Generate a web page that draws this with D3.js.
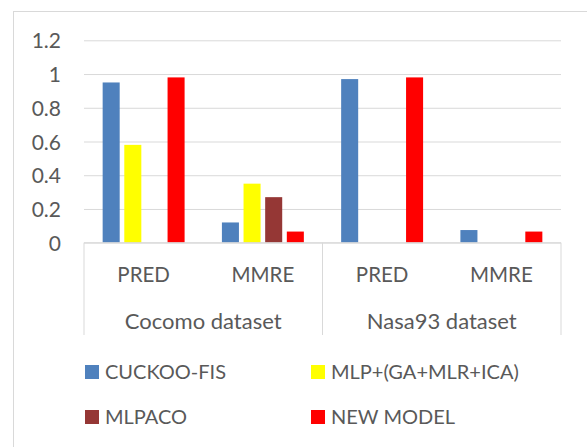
<!DOCTYPE html>
<html>
<head>
<meta charset="utf-8">
<script src="https://d3js.org/d3.v7.min.js"></script>
<style>
  body { margin: 0; background: #fff; }
  svg text { font-family: Lato, 'Open Sans', sans-serif; fill: #595959; }
  .grid line { stroke: #d9d9d9; stroke-width: 1px; }
  .grid path { display: none; }
</style>
</head>
<body>
<script>
// data
var groups = ["Cocomo dataset", "Nasa93 dataset"];
var metrics = ["PRED", "MMRE"];
var series = ["CUCKOO-FIS", "MLP+(GA+MLR+ICA)", "MLPACO", "NEW MODEL"];
var cuckooFis = [0.95, 0.12, 0.97, 0.075];
var mlpGa = [0.58, 0.35, null, null];
var mlpaco = [null, 0.27, null, null];
var newModel = [0.98, 0.066, 0.98, 0.066];
var yTicks = [0, 0.2, 0.4, 0.6, 0.8, 1, 1.2];
var colors = ["#4f81bd", "#ffff00", "#953735", "#ff0000"];

var values = [cuckooFis, mlpGa, mlpaco, newModel];

var W = 587, H = 447;
var plot = {left: 84, right: 561, top: 40.3, bottom: 242.7};

var svg = d3.select("body").append("svg")
  .attr("width", W)
  .attr("height", H);

// chart frame
svg.append("rect")
  .attr("x", 13.5).attr("y", 11.5)
  .attr("width", 640).attr("height", 520)
  .attr("fill", "none")
  .attr("stroke", "#d9d9d9");

// categories: one per dataset / metric pair
var cats = [];
groups.forEach(function(g) {
  metrics.forEach(function(m) { cats.push({group: g, metric: m, key: g + "|" + m}); });
});

var x0 = d3.scaleBand()
  .domain(cats.map(function(c) { return c.key; }))
  .range([plot.left, plot.right])
  .padding(0);

var x1 = d3.scaleBand()
  .domain(series)
  .range([0, x0.bandwidth()])
  .paddingInner(0.2126)
  .paddingOuter(0.862);

var y = d3.scaleLinear()
  .domain([0, 1.2])
  .range([plot.bottom, plot.top]);

// y axis with gridlines
var yAxis = svg.append("g")
  .attr("class", "grid")
  .attr("transform", "translate(" + plot.left + ",0)")
  .call(d3.axisLeft(y)
    .tickValues(yTicks)
    .tickSize(-(plot.right - plot.left))
    .tickPadding(23)
    .tickFormat(function(d) { return String(d); }));
yAxis.selectAll("text")
  .style("font-size", "21px")
  .attr("dy", "0.36em");

// bars
var rows = [];
cats.forEach(function(c, i) {
  series.forEach(function(s, j) {
    if (values[j][i] != null) rows.push({key: c.key, s: s, j: j, v: values[j][i]});
  });
});

svg.append("g").selectAll("rect")
  .data(rows)
  .enter().append("rect")
  .attr("x", function(d) { return x0(d.key) + x1(d.s); })
  .attr("width", x1.bandwidth())
  .attr("y", function(d) { return y(d.v); })
  .attr("height", function(d) { return y(0) - y(d.v); })
  .attr("fill", function(d) { return colors[d.j]; });

// category axis (two levels)
var axisG = svg.append("g");
var axisBottom = 335;
axisG.append("line")
  .attr("x1", plot.left).attr("x2", plot.right)
  .attr("y1", plot.bottom).attr("y2", plot.bottom)
  .attr("stroke", "#d9d9d9");

var bounds = [plot.left];
groups.forEach(function(g) {
  bounds.push(x0(g + "|" + metrics[metrics.length - 1]) + x0.bandwidth());
});
axisG.selectAll(".sep")
  .data(bounds)
  .enter().append("line")
  .attr("x1", function(d) { return d; }).attr("x2", function(d) { return d; })
  .attr("y1", plot.bottom).attr("y2", axisBottom)
  .attr("stroke", "#d9d9d9");

axisG.selectAll(".metric")
  .data(cats)
  .enter().append("text")
  .attr("x", function(d) { return x0(d.key) + x0.bandwidth() / 2; })
  .attr("y", 281.5)
  .attr("text-anchor", "middle")
  .style("font-size", "20.5px")
  .text(function(d) { return d.metric; });

axisG.selectAll(".group")
  .data(groups)
  .enter().append("text")
  .attr("x", function(g) { return x0(g + "|" + metrics[0]) + x0.bandwidth(); })
  .attr("y", 329)
  .attr("text-anchor", "middle")
  .style("font-size", "22px")
  .text(function(g) { return g; });

// legend
var legX = [85, 311], legY = [372, 417];
var leg = svg.append("g").selectAll("g")
  .data(series)
  .enter().append("g")
  .attr("transform", function(d, i) {
    return "translate(" + legX[i % 2] + "," + legY[Math.floor(i / 2)] + ")";
  });
leg.append("rect")
  .attr("x", 0).attr("y", -7)
  .attr("width", 14).attr("height", 14)
  .attr("fill", function(d, i) { return colors[i]; });
leg.append("text")
  .attr("x", 20).attr("y", 0)
  .attr("dy", "0.36em")
  .style("font-size", "20px")
  .text(function(d) { return d; });
</script>
</body>
</html>
